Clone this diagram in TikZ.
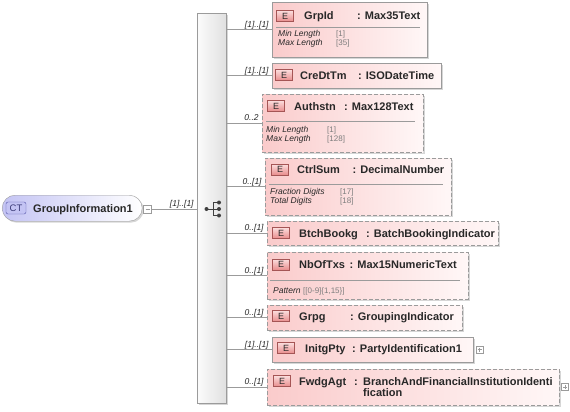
\documentclass[tikz,border=0pt]{standalone}
\usepackage{fontspec}
\setmainfont{Liberation Sans}
\usepackage{xcolor}
\usepackage{tikz}
\usetikzlibrary{shadows}

\definecolor{edgegray}{RGB}{155,155,155}
\definecolor{boxpink}{RGB}{250,203,203}
\definecolor{boxwhite}{RGB}{255,247,247}
\definecolor{iconlight}{RGB}{252,222,222}
\definecolor{icondark}{RGB}{232,140,140}
\definecolor{iconline}{RGB}{165,85,85}
\definecolor{ctfill}{RGB}{196,196,244}
\definecolor{ctline}{RGB}{85,85,170}
\definecolor{valgray}{RGB}{125,125,125}
\definecolor{txtdark}{RGB}{40,40,40}

\begin{document}
\begin{tikzpicture}[
        x=1pt, y=-1pt,
        shadowed/.style={drop shadow={shadow xshift=1.5pt, shadow yshift=-1.5pt, opacity=0.35, fill=black!45}},
        elem/.style={rectangle, draw=edgegray, anchor=north west, inner sep=0pt, left color=boxpink, right color=boxwhite, shadowed},
        optelem/.style={elem, dash pattern=on 4pt off 2pt},
        eicon/.style={rectangle, draw=iconline, top color=iconlight, bottom color=icondark, minimum width=17pt, minimum height=11pt, inner sep=0pt, font=\fontsize{9}{9}\selectfont, text=txtdark},
        ename/.style={anchor=base west, inner sep=0pt, font=\fontsize{11}{12}\selectfont\bfseries, text=txtdark},
        facet/.style={anchor=base west, inner sep=0pt, font=\fontsize{8.5}{9}\selectfont\itshape, text=txtdark},
        fval/.style={anchor=base west, inner sep=0pt, font=\fontsize{8}{9}\selectfont, text=valgray},
        sep/.style={draw=edgegray},
        conn/.style={draw=edgegray, line width=0.8pt},
        lbl/.style={anchor=base east, inner sep=0pt, xshift=-3pt, yshift=2.5pt, font=\fontsize{8.5}{9}\selectfont\itshape, text=txtdark},
        seqbar/.style={rectangle, draw=edgegray, anchor=north west, inner sep=0pt, left color=gray!3, right color=gray!24, shadowed},
        ctbox/.style={rectangle, draw=edgegray, rounded corners=13pt, anchor=north west, inner sep=0pt, left color=ctfill, right color=white, shadowed},
        cticon/.style={rectangle, draw=ctline, rounded corners=2pt, fill=ctfill, minimum width=20pt, minimum height=12pt, inner sep=0pt, font=\fontsize{9.5}{10}\selectfont, text=ctline!70!black},
        togglebox/.style={rectangle, draw=edgegray, fill=white, minimum width=7pt, minimum height=7pt, inner sep=0pt}
    ]

    \fill[white] (0,0) rectangle (570,412);
    \useasboundingbox (0,0) rectangle (570,412);

    % Complex type
    \node[ctbox, minimum width=140pt, minimum height=26pt] (grp_info) at (2,195) {};
    \node[cticon] (grp_info_icon) at (16,208) {CT};
    \node[ename] (grp_info_name) at (33,212) {GroupInformation1};
    \node[togglebox, minimum width=8pt, minimum height=8pt] (grp_info_min) at (147.5,209) {};
    \draw[edgegray] ([xshift=-2pt]grp_info_min.center) -- ([xshift=2pt]grp_info_min.center);

    % Sequence
    \node[seqbar, minimum width=29pt, minimum height=390pt] (seq) at (197,13) {};
    \fill[black!75] (206.5,209) circle (2pt);
    \draw[black!75, line width=0.9pt] (206.5,209) -- (213,209) (213,202.5) -- (213,215.5)
        (213,202.5) -- (219,202.5) (213,215.5) -- (219,215.5) (213,209) -- (219,209);
    \fill[black!75] (219,202.5) circle (2pt) (219,209) circle (2pt) (219,215.5) circle (2pt);

    % Elements
    \node[elem, minimum width=155pt, minimum height=55pt] (grp_id) at (272,2) {};
    \node[eicon] (grp_id_icon) at (285,16) {E};
    \node[ename] (grp_id_name) at (304,20) {GrpId};
    \node[ename] (grp_id_type) at (357,20) {: Max35Text};
    \draw[sep] (276,27) -- (420,27);
    \node[facet] (grp_id_min) at (278,37) {Min Length};
    \node[fval] (grp_id_min_val) at (336,37) {[1]};
    \node[facet] (grp_id_max) at (278,46) {Max Length};
    \node[fval] (grp_id_max_val) at (336,46) {[35]};

    \node[elem, minimum width=169pt, minimum height=25pt] (cre_dt_tm) at (272,63) {};
    \node[eicon] (cre_dt_tm_icon) at (284,75) {E};
    \node[ename] (cre_dt_tm_name) at (300,79) {CreDtTm};
    \node[ename] (cre_dt_tm_type) at (358,79) {: ISODateTime};

    \node[optelem, minimum width=161pt, minimum height=58pt] (authstn) at (262,94) {};
    \node[eicon] (authstn_icon) at (276,106) {E};
    \node[ename] (authstn_name) at (294,110) {Authstn};
    \node[ename] (authstn_type) at (344,110) {: Max128Text};
    \draw[sep] (266,121) -- (415,121);
    \node[facet] (authstn_min) at (266,132) {Min Length};
    \node[fval] (authstn_min_val) at (327,132) {[1]};
    \node[facet] (authstn_max) at (266,141) {Max Length};
    \node[fval] (authstn_max_val) at (327,141) {[128]};

    \node[optelem, minimum width=186pt, minimum height=57pt] (ctrl_sum) at (265,158) {};
    \node[eicon] (ctrl_sum_icon) at (280,169.5) {E};
    \node[ename] (ctrl_sum_name) at (297,173.5) {CtrlSum};
    \node[ename] (ctrl_sum_type) at (352.5,173.5) {: DecimalNumber};
    \draw[sep] (269,184) -- (443,184);
    \node[facet] (ctrl_sum_frac) at (270,194) {Fraction Digits};
    \node[fval] (ctrl_sum_frac_val) at (340,194) {[17]};
    \node[facet] (ctrl_sum_tot) at (270,203) {Total Digits};
    \node[fval] (ctrl_sum_tot_val) at (340,203) {[18]};

    \node[optelem, minimum width=231pt, minimum height=24pt] (btch_bookg) at (267,221) {};
    \node[eicon] (btch_bookg_icon) at (281,233) {E};
    \node[ename] (btch_bookg_name) at (299,237) {BtchBookg};
    \node[ename] (btch_bookg_type) at (366,237) {: BatchBookingIndicator};

    \node[optelem, minimum width=201pt, minimum height=47pt] (nb_of_txs) at (267,252) {};
    \node[eicon] (nb_of_txs_icon) at (281,264.5) {E};
    \node[ename] (nb_of_txs_name) at (299,268.5) {NbOfTxs};
    \node[ename] (nb_of_txs_type) at (349.5,268.5) {: Max15NumericText};
    \draw[sep] (270,280) -- (460,280);
    \node[facet] (nb_of_txs_pat) at (273,293) {Pattern};
    \node[fval] (nb_of_txs_pat_val) at (303,293) {[[0-9]\{1,15\}]};

    \node[optelem, minimum width=195pt, minimum height=25pt] (grpg) at (267,305) {};
    \node[eicon] (grpg_icon) at (281,316) {E};
    \node[ename] (grpg_name) at (299,320) {Grpg};
    \node[ename] (grpg_type) at (350,320) {: GroupingIndicator};

    \node[elem, minimum width=201pt, minimum height=25pt] (initg_pty) at (272,337) {};
    \node[eicon] (initg_pty_icon) at (286,348) {E};
    \node[ename] (initg_pty_name) at (305,352) {InitgPty};
    \node[ename] (initg_pty_type) at (352,352) {: PartyIdentification1};
    \node[togglebox] (initg_pty_plus) at (479.5,349.5) {};
    \draw[edgegray] ([xshift=-2pt]initg_pty_plus.center) -- ([xshift=2pt]initg_pty_plus.center)
        ([yshift=-2pt]initg_pty_plus.center) -- ([yshift=2pt]initg_pty_plus.center);

    \node[optelem, minimum width=292pt, minimum height=36pt] (fwdg_agt) at (267,369) {};
    \node[eicon] (fwdg_agt_icon) at (282,381) {E};
    \node[ename] (fwdg_agt_name) at (299,385) {FwdgAgt};
    \node[ename] (fwdg_agt_colon) at (354,385) {:};
    \node[ename] (fwdg_agt_type) at (363,385) {BranchAndFinancialInstitutionIdenti};
    \node[ename] (fwdg_agt_type2) at (363,396.5) {fication};
    \node[togglebox] (fwdg_agt_plus) at (565,387) {};
    \draw[edgegray] ([xshift=-2pt]fwdg_agt_plus.center) -- ([xshift=2pt]fwdg_agt_plus.center)
        ([yshift=-2pt]fwdg_agt_plus.center) -- ([yshift=2pt]fwdg_agt_plus.center);

    % Connections
    \draw[conn] (grp_info_min.east) -- (seq.west |- grp_info_min.east) node[lbl] {[1]..[1]};
    \draw[conn] (seq.east |- grp_id.west) -- (grp_id.west) node[lbl] {[1]..[1]};
    \draw[conn] (seq.east |- cre_dt_tm.west) -- (cre_dt_tm.west) node[lbl] {[1]..[1]};
    \draw[conn] (seq.east |- authstn.west) -- (authstn.west) node[lbl] {0..2};
    \draw[conn] (seq.east |- ctrl_sum.west) -- (ctrl_sum.west) node[lbl] {0..[1]};
    \draw[conn] (seq.east |- btch_bookg.west) -- (btch_bookg.west) node[lbl] {0..[1]};
    \draw[conn] (seq.east |- nb_of_txs.west) -- (nb_of_txs.west) node[lbl] {0..[1]};
    \draw[conn] (seq.east |- grpg.west) -- (grpg.west) node[lbl] {0..[1]};
    \draw[conn] (seq.east |- initg_pty.west) -- (initg_pty.west) node[lbl] {[1]..[1]};
    \draw[conn] (seq.east |- fwdg_agt.west) -- (fwdg_agt.west) node[lbl] {0..[1]};

\end{tikzpicture}
\end{document}
